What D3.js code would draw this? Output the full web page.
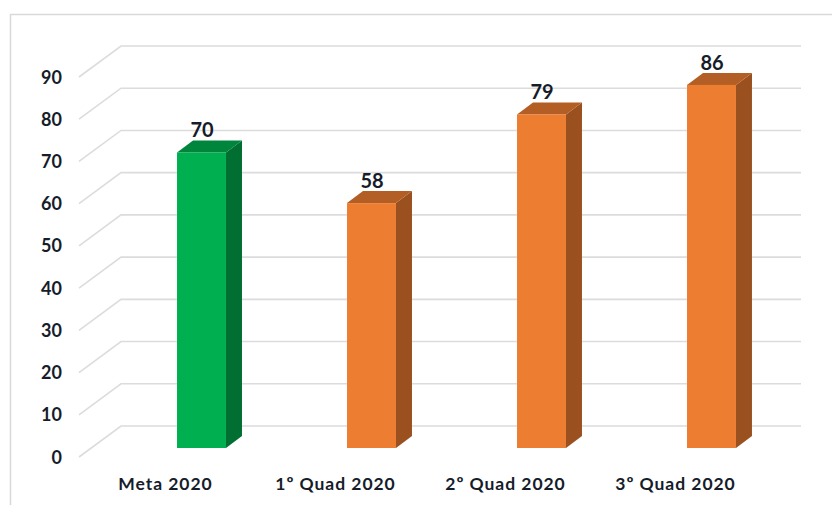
<!DOCTYPE html>
<html><head><meta charset="utf-8">
<script src="https://cdn.jsdelivr.net/npm/d3@7"></script>
<style>html,body{margin:0;padding:0;background:#fff}svg{display:block}text{font-family:Lato,sans-serif;fill:#161c2a}</style>
</head><body><svg id="c" width="832" height="505"></svg>
<script>
const categories = ["Meta 2020","1º Quad 2020","2º Quad 2020","3º Quad 2020"];
const values = [70,58,79,86];
const tickValues = [0,10,20,30,40,50,60,70,80,90];
const barColors = ["#00b050","#ed7d31","#ed7d31","#ed7d31"];
const topColors = ["#00853c","#b25e25","#b25e25","#b25e25"];
const sideColors = ["#006f31","#9a511f","#9a511f","#9a511f"];

const svg = d3.select("#c");
const depthX = 42, depthY = 31;
const y = d3.scaleLinear().domain([0,90]).range([457,77]);
const x = d3.scaleBand().domain(categories).range([116.5,796.5]).paddingInner(0.712).paddingOuter(0.356);
const barDx = 16, barDy = 12, barInsetY = 9;

svg.append("path").attr("d","M10.5,505V14.5H832").attr("fill","none").attr("stroke","#d9d9d9").attr("stroke-width",1.5);

const grid = svg.append("g").attr("fill","none").attr("stroke","#dcdcdc").attr("stroke-width",1.6);
tickValues.forEach(t=>{
  const yy=y(t);
  grid.append("path").attr("d",`M79,${yy}L${79+depthX},${yy-depthY}H801`);
});

svg.append("g").selectAll("text").data(tickValues).join("text")
  .attr("x",62).attr("y",d=>y(d)+6.5).attr("text-anchor","end")
  .attr("font-size",18).attr("font-weight",700).text(d=>d);

const bars = svg.append("g").selectAll("g").data(values).join("g");
bars.each(function(v,i){
  const g=d3.select(this), x0=x(categories[i]), w=x.bandwidth();
  const yb=y(0)-barInsetY, yt=y(v)-barInsetY;
  g.append("path").attr("fill",sideColors[i])
    .attr("d",`M${x0+w},${yt}l${barDx},${-barDy}V${yb-barDy}L${x0+w},${yb}Z`);
  g.append("path").attr("fill",topColors[i])
    .attr("d",`M${x0},${yt}l${barDx},${-barDy}h${w}l${-barDx},${barDy}Z`);
  g.append("rect").attr("x",x0).attr("y",yt).attr("width",w).attr("height",yb-yt).attr("fill",barColors[i]);
  g.append("text").attr("x",x0+w/2+0.5).attr("y",yt-15).attr("text-anchor","middle")
    .attr("font-size",20).attr("font-weight",700).text(v);
});

svg.append("g").selectAll("text").data(categories).join("text")
  .attr("x",d=>x(d)+x.bandwidth()/2-36).attr("y",490).attr("text-anchor","middle")
  .attr("font-size",17.5).attr("font-weight",700).attr("letter-spacing",0.95).text(d=>d);
</script></body></html>
